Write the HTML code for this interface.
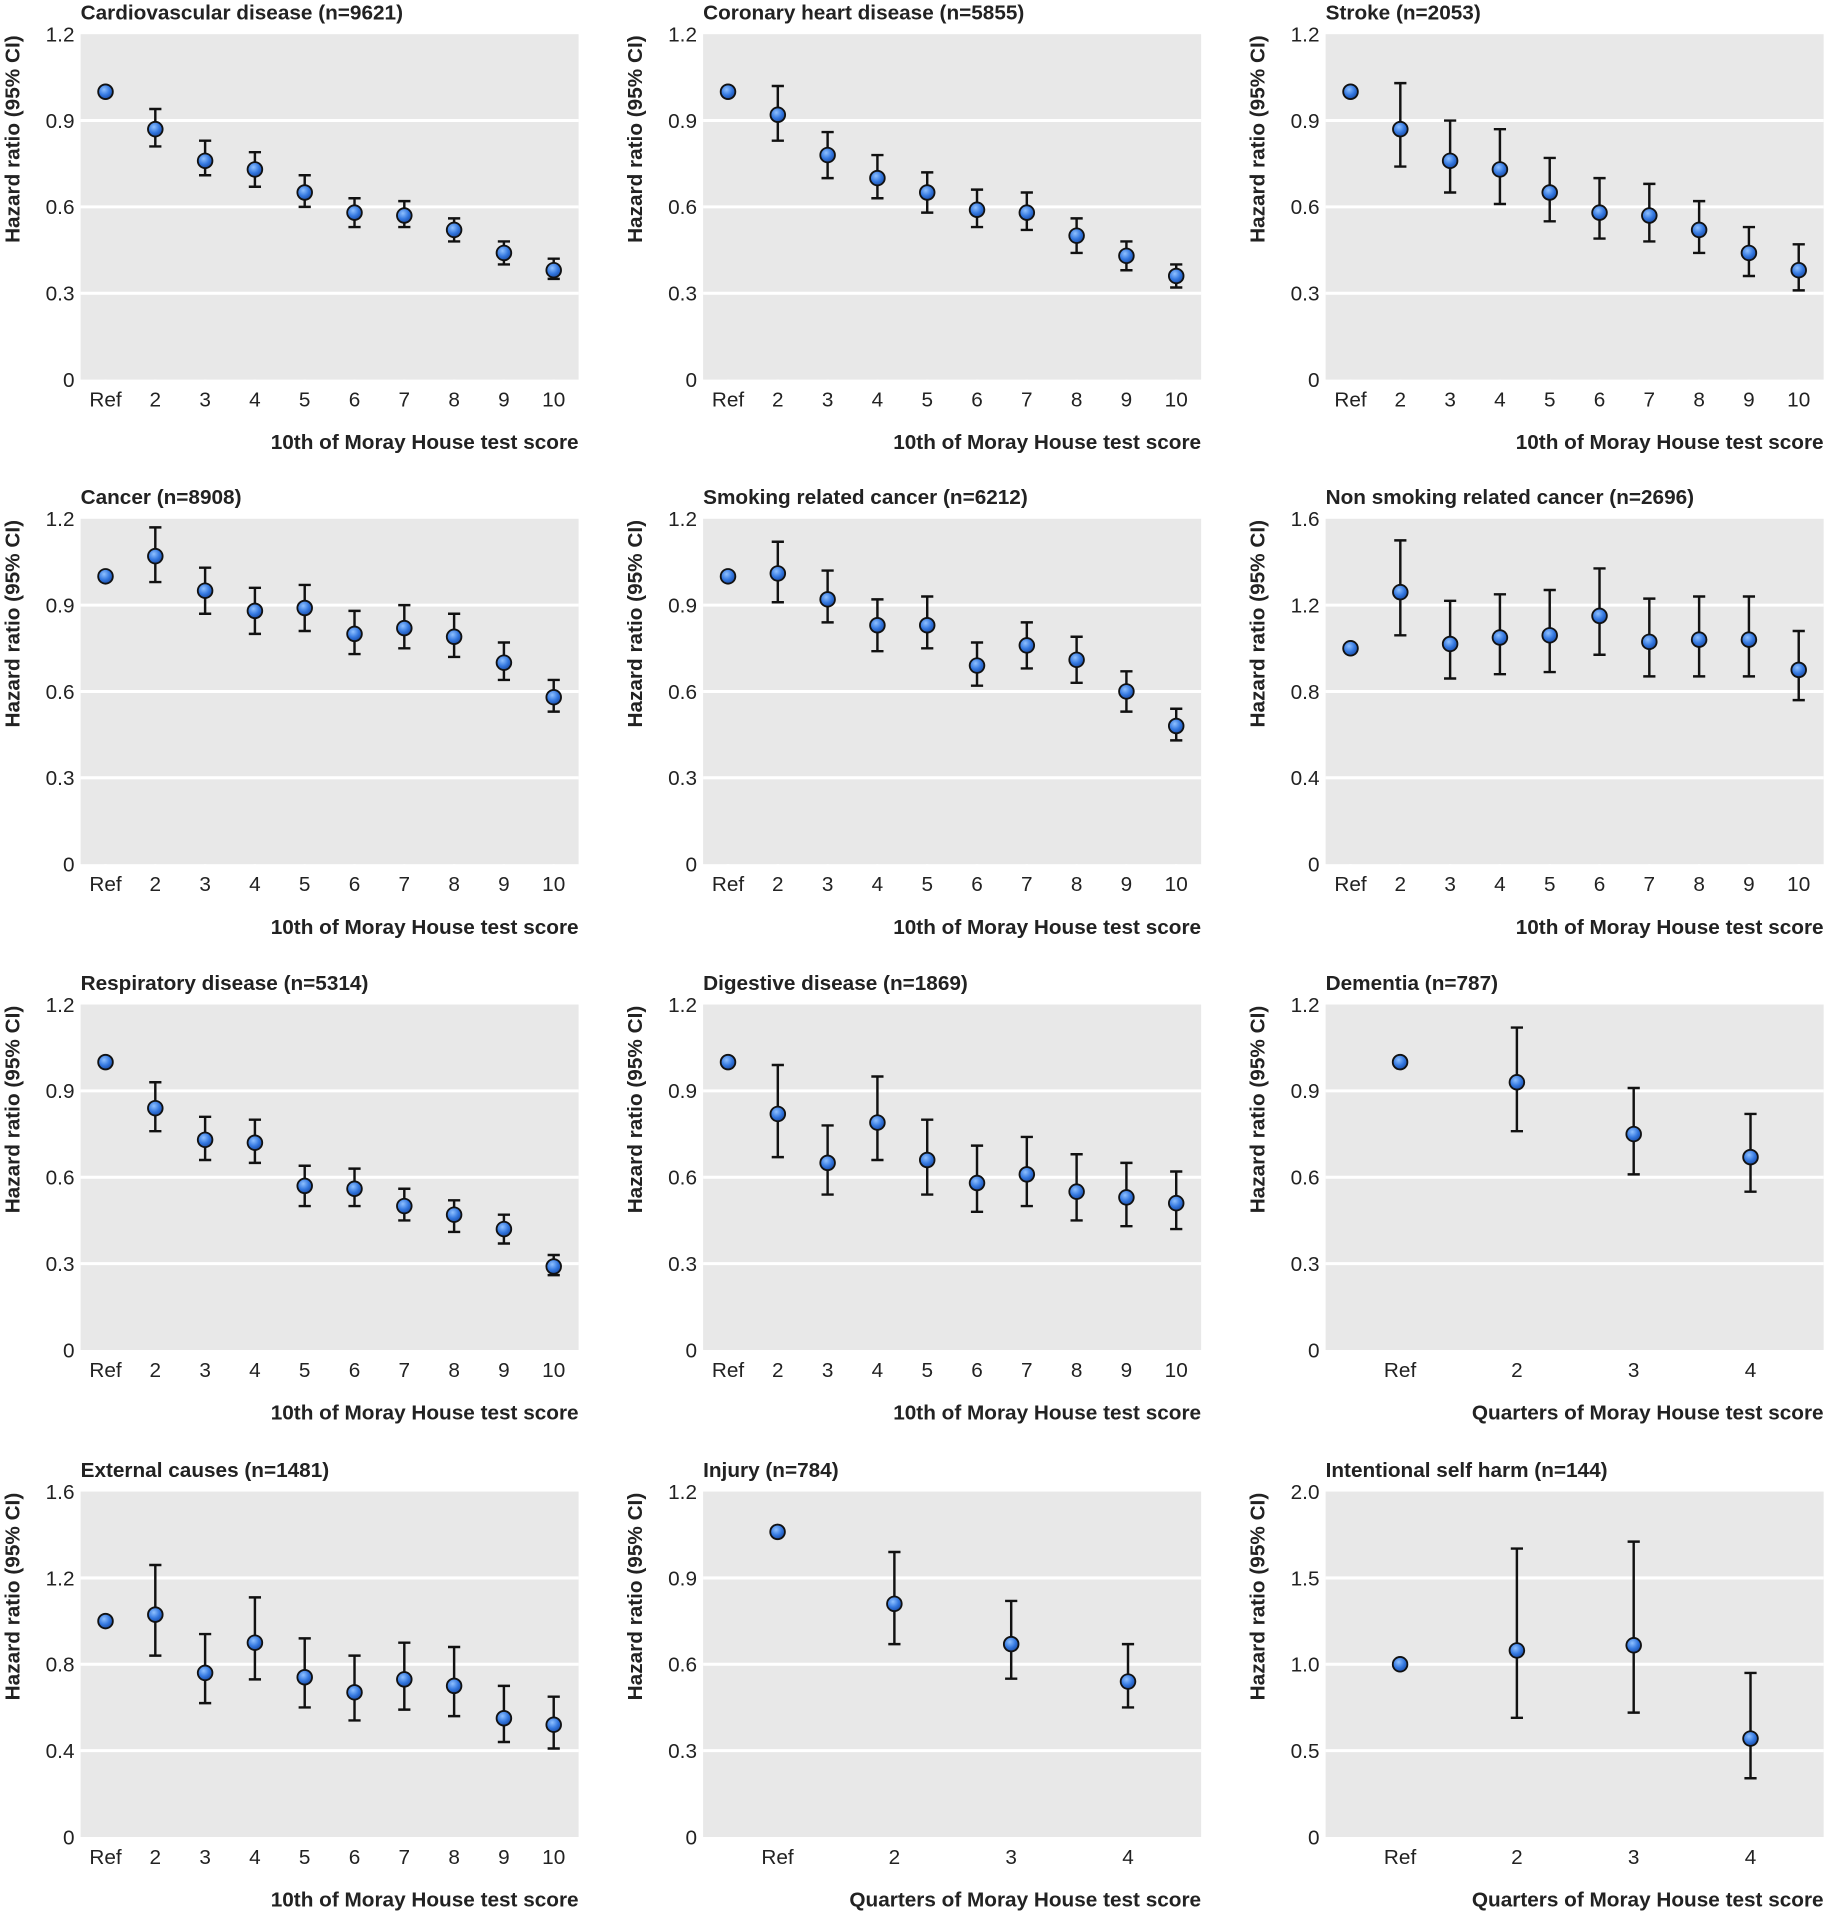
<!DOCTYPE html>
<html><head><meta charset="utf-8"><style>
html,body{margin:0;padding:0;background:#fff}
svg{display:block}
text{font-family:"Liberation Sans Narrow","Liberation Sans",sans-serif;fill:#222}
</style></head><body>
<svg id="fig" width="1831" height="1920" viewBox="0 0 1500 1573" xmlns="http://www.w3.org/2000/svg">
<defs><radialGradient id="dotg" cx="40%" cy="35%" r="65%"><stop offset="0" stop-color="#8ec0ff"/><stop offset="0.6" stop-color="#3478e0"/><stop offset="1" stop-color="#1d4fa8"/></radialGradient></defs>
</svg>
<script>
const titles=["Cardiovascular disease (n=9621)","Coronary heart disease (n=5855)","Stroke (n=2053)","Cancer (n=8908)","Smoking related cancer (n=6212)","Non smoking related cancer (n=2696)","Respiratory disease (n=5314)","Digestive disease (n=1869)","Dementia (n=787)","External causes (n=1481)","Injury (n=784)","Intentional self harm (n=144)"];
const decileCats=["Ref","2","3","4","5","6","7","8","9","10"];
const quarterCats=["Ref","2","3","4"];
const ticks12=[0,0.3,0.6,0.9,1.2];
const ticks16=[0,0.4,0.8,1.2,1.6];
const ticks20=[0,0.5,1.0,1.5,2.0];
const tickLabels12=["0","0.3","0.6","0.9","1.2"];
const tickLabels16=["0","0.4","0.8","1.2","1.6"];
const tickLabels20=["0","0.5","1.0","1.5","2.0"];
const hrCVD=[1,0.87,0.76,0.73,0.65,0.58,0.57,0.52,0.44,0.38];
const loCVD=[1,0.81,0.71,0.67,0.60,0.53,0.53,0.48,0.40,0.35];
const hiCVD=[1,0.94,0.83,0.79,0.71,0.63,0.62,0.56,0.48,0.42];
const hrCHD=[1,0.92,0.78,0.70,0.65,0.59,0.58,0.50,0.43,0.36];
const loCHD=[1,0.83,0.70,0.63,0.58,0.53,0.52,0.44,0.38,0.32];
const hiCHD=[1,1.02,0.86,0.78,0.72,0.66,0.65,0.56,0.48,0.40];
const hrStroke=[1,0.87,0.76,0.73,0.65,0.58,0.57,0.52,0.44,0.38];
const loStroke=[1,0.74,0.65,0.61,0.55,0.49,0.48,0.44,0.36,0.31];
const hiStroke=[1,1.03,0.90,0.87,0.77,0.70,0.68,0.62,0.53,0.47];
const hrCancer=[1,1.07,0.95,0.88,0.89,0.80,0.82,0.79,0.70,0.58];
const loCancer=[1,0.98,0.87,0.80,0.81,0.73,0.75,0.72,0.64,0.53];
const hiCancer=[1,1.17,1.03,0.96,0.97,0.88,0.90,0.87,0.77,0.64];
const hrSmk=[1,1.01,0.92,0.83,0.83,0.69,0.76,0.71,0.60,0.48];
const loSmk=[1,0.91,0.84,0.74,0.75,0.62,0.68,0.63,0.53,0.43];
const hiSmk=[1,1.12,1.02,0.92,0.93,0.77,0.84,0.79,0.67,0.54];
const hrNonSmk=[1,1.26,1.02,1.05,1.06,1.15,1.03,1.04,1.04,0.90];
const loNonSmk=[1,1.06,0.86,0.88,0.89,0.97,0.87,0.87,0.87,0.76];
const hiNonSmk=[1,1.50,1.22,1.25,1.27,1.37,1.23,1.24,1.24,1.08];
const hrResp=[1,0.84,0.73,0.72,0.57,0.56,0.50,0.47,0.42,0.29];
const loResp=[1,0.76,0.66,0.65,0.50,0.50,0.45,0.41,0.37,0.26];
const hiResp=[1,0.93,0.81,0.80,0.64,0.63,0.56,0.52,0.47,0.33];
const hrDig=[1,0.82,0.65,0.79,0.66,0.58,0.61,0.55,0.53,0.51];
const loDig=[1,0.67,0.54,0.66,0.54,0.48,0.50,0.45,0.43,0.42];
const hiDig=[1,0.99,0.78,0.95,0.80,0.71,0.74,0.68,0.65,0.62];
const hrDem=[1,0.93,0.75,0.67];
const loDem=[1,0.76,0.61,0.55];
const hiDem=[1,1.12,0.91,0.82];
const hrExt=[1,1.03,0.76,0.90,0.74,0.67,0.73,0.70,0.55,0.52];
const loExt=[1,0.84,0.62,0.73,0.60,0.54,0.59,0.56,0.44,0.41];
const hiExt=[1,1.26,0.94,1.11,0.92,0.84,0.90,0.88,0.70,0.65];
const hrInj=[1.06,0.81,0.67,0.54];
const loInj=[1.06,0.67,0.55,0.45];
const hiInj=[1.06,0.99,0.82,0.67];
const hrSelf=[1,1.08,1.11,0.57];
const loSelf=[1,0.69,0.72,0.34];
const hiSelf=[1,1.67,1.71,0.95];

const NS="http://www.w3.org/2000/svg";
const svg=document.getElementById('fig');
function mk(tag,attrs,parent){const e=document.createElementNS(NS,tag);for(const k in attrs)e.setAttribute(k,attrs[k]);(parent||svg).appendChild(e);return e;}
const panels=[
 [hrCVD,loCVD,hiCVD,decileCats,ticks12,tickLabels12],
 [hrCHD,loCHD,hiCHD,decileCats,ticks12,tickLabels12],
 [hrStroke,loStroke,hiStroke,decileCats,ticks12,tickLabels12],
 [hrCancer,loCancer,hiCancer,decileCats,ticks12,tickLabels12],
 [hrSmk,loSmk,hiSmk,decileCats,ticks12,tickLabels12],
 [hrNonSmk,loNonSmk,hiNonSmk,decileCats,ticks16,tickLabels16],
 [hrResp,loResp,hiResp,decileCats,ticks12,tickLabels12],
 [hrDig,loDig,hiDig,decileCats,ticks12,tickLabels12],
 [hrDem,loDem,hiDem,quarterCats,ticks12,tickLabels12],
 [hrExt,loExt,hiExt,decileCats,ticks16,tickLabels16],
 [hrInj,loInj,hiInj,quarterCats,ticks12,tickLabels12],
 [hrSelf,loSelf,hiSelf,quarterCats,ticks20,tickLabels20]
];
const colX=[66,576,1086], rowTop=[28,425,823,1222], W=408, H=283;
panels.forEach((p,i)=>{
 const [hr,lo,hi,cats,ticks,tl]=p;
 const L=colX[i%3], T=rowTop[Math.floor(i/3)], B=T+H;
 const g=mk('g',{});
 
 
 const ymax=ticks[ticks.length-1];
 const y=v=>B-v/ymax*H;
 const x=k=>cats.length===10?L+20.4+k*40.8:L+61+k*95.7;
 const bg=mk('rect',{x:L,y:T,width:W,height:H,fill:'#e8e8e8'},g);
 
 
 ticks.forEach((t,j)=>{
  if(j>0&&j<ticks.length-1){const gl=mk('line',{x1:L,x2:L+W,y1:y(t),y2:y(t),stroke:'#fff','stroke-width':2.5},g);
   
   }
  const tx=mk('text',{x:L-5,y:y(t)+6,'text-anchor':'end','font-size':17},g);tx.textContent=tl[j];
  
  
 });
 cats.forEach((c,k)=>{
  const tk=mk('line',{x1:x(k),x2:x(k),y1:B,y2:B+4,stroke:'#fff','stroke-width':2},g);
  
  
  const tx=mk('text',{x:x(k),y:B+22,'text-anchor':'middle','font-size':17},g);tx.textContent=c;
  
  
 });
 const ti=mk('text',{x:L,y:T-12,'font-size':17,'font-weight':'bold'},g);ti.textContent=titles[i];
 
 
 const yt=mk('text',{x:0,y:0,'font-size':17,'font-weight':'bold','text-anchor':'middle',transform:`translate(${L-50},${T+86}) rotate(-90)`},g);yt.textContent='Hazard ratio (95% CI)';
 
 
 const xt=mk('text',{x:L+W,y:B+57,'font-size':17,'font-weight':'bold','text-anchor':'end'},g);
 xt.textContent=cats.length===10?'10th of Moray House test score':'Quarters of Moray House test score';
 
 
 hr.forEach((v,k)=>{
  if(hi[k]!==lo[k]){
   const eb=mk('path',{d:`M${x(k)-5},${y(hi[k])}H${x(k)+5}M${x(k)},${y(hi[k])}V${y(lo[k])}M${x(k)-5},${y(lo[k])}H${x(k)+5}`,stroke:'#111','stroke-width':2,fill:'none'},g);
   
   
  }
  const d=mk('circle',{cx:x(k),cy:y(v),r:6,fill:'url(#dotg)',stroke:'#111','stroke-width':1.5},g);
  
  
 });
});
</script>
</body></html>
